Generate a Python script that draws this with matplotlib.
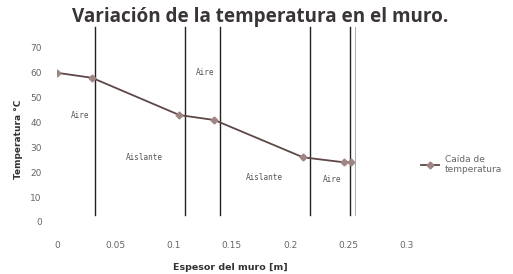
import matplotlib
matplotlib.use("Agg")
import matplotlib.pyplot as plt
from matplotlib.lines import Line2D

# Data
espesor = [0.0, 0.030, 0.105, 0.135, 0.211, 0.246, 0.252]
temperatura = [60, 58, 43, 41, 26, 24, 24]

# layer boundaries (vertical lines) in metres
limites = [0.033, 0.110, 0.140, 0.217, 0.251, 0.256]

capas = ["Aire", "Aire", "Aislante", "Aislante", "Aire"]
capas_x = [0.020, 0.127, 0.075, 0.178, 0.236]
capas_y = [43, 60, 26, 18, 17]

xticks = [0, 0.05, 0.1, 0.15, 0.2, 0.25, 0.3]
xtick_labels = ["0", "0.05", "0.1", "0.15", "0.2", "0.25", "0.3"]
yticks = [0, 10, 20, 30, 40, 50, 60, 70]

fig = plt.figure(figsize=(5.13, 2.74), dpi=100)
ax = fig.add_axes([0.111, 0.19, 0.682, 0.635])
ax.set_xlim(0, 0.3)
ax.set_ylim(0, 70)

line_col = "#5e4747"
mark_col = "#a08585"

ax.plot(espesor, temperatura, color=line_col, lw=1.3,
        marker="D", ms=3.5, mfc=mark_col, mec=mark_col, zorder=3)

for xv in limites:
    lw = 0.6 if xv == limites[-1] else 1.0
    col = "#9aa0a0" if xv == limites[-1] else "#222222"
    ax.plot([xv, xv], [2.8, 78.3], color=col, lw=lw, clip_on=False, zorder=2)

for name, xv, yv in zip(capas, capas_x, capas_y):
    ax.text(xv, yv, name, fontsize=5.5, color="#555555",
            ha="center", va="center", family="DejaVu Sans Mono")

for s in ax.spines.values():
    s.set_visible(False)
ax.tick_params(length=0, labelsize=6.5, labelcolor="#666666")
ax.tick_params(axis="x", pad=14)
ax.tick_params(axis="y", pad=11)
ax.set_xticks(xticks)
ax.set_xticklabels(xtick_labels)
ax.set_yticks(yticks)

fig.text(0.037, 0.49, "Temperatura °C", rotation=90, fontsize=6.5,
         fontweight="bold", color="#333333", ha="center", va="center")
fig.text(0.45, 0.025, "Espesor del muro [m]", fontsize=6.8,
         fontweight="bold", color="#333333", ha="center", va="center")

fig.suptitle("Variación de la temperatura en el muro.", x=0.508, y=0.975,
             fontsize=13.6, fontweight="bold", color="#3a3535",
             family="Open Sans", va="top")

handle = Line2D([], [], color=line_col, lw=1.3, marker="D", ms=3.5,
                mfc=mark_col, mec=mark_col)
fig.legend([handle], ["Caída de\ntemperatura"], loc="center left",
           bbox_to_anchor=(0.805, 0.40), frameon=False, fontsize=6.5,
           handlelength=2.0, handletextpad=0.6, labelcolor="#666666")

fig.savefig("out.png", dpi=100)
